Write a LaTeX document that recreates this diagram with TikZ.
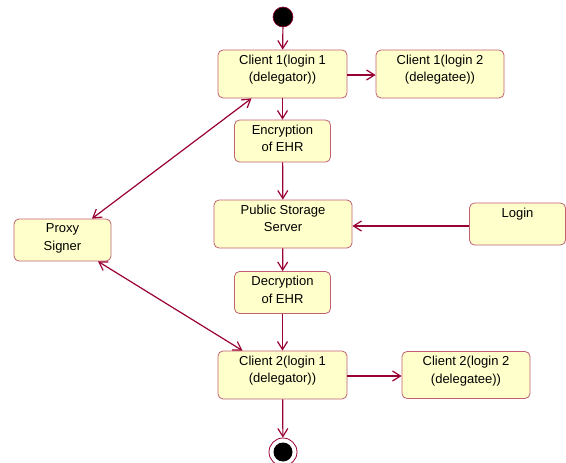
\documentclass[tikz,border=0pt]{standalone}
\usepackage{fontspec}
\setmainfont{Liberation Sans}
\usetikzlibrary{arrows.meta}
\definecolor{boxfill}{RGB}{255,255,204}
\definecolor{boxline}{RGB}{192,96,112}
\definecolor{arrowc}{RGB}{153,0,51}
\tikzset{
  box/.style={draw=boxline, line width=0.8pt, fill=boxfill, rounded corners=5pt, inner sep=0pt},
  txt/.style={anchor=north, yshift=-5pt, inner sep=0pt, align=center, font=\fontsize{13}{17.5}\selectfont},
  flow/.style={draw=arrowc, line width=1.2pt, -{Straight Barb[length=8pt,width=10pt]}},
  both/.style={draw=arrowc, line width=1.2pt, {Straight Barb[length=8pt,width=10pt]}-{Straight Barb[length=8pt,width=10pt]}}
}
\begin{document}
\begin{tikzpicture}[x=1pt,y=-1pt]
\useasboundingbox (0,0) rectangle (566,463);
% start
\node[circle, fill=black, draw=arrowc, line width=0.6pt, minimum size=20pt, inner sep=0pt] (start) at (283,17) {};
% boxes
\node[box, minimum width=129pt, minimum height=48pt, label={[txt]north:{Client 1(login 1\\(delegator))}}] (c1) at (282.5,74) {};
\node[box, minimum width=128pt, minimum height=48pt, label={[txt]north:{Client 1(login 2\\(delegatee))}}] (c1b) at (440,74) {};
\node[box, minimum width=96pt, minimum height=42pt, label={[txt]north:{Encryption\\of EHR}}] (enc) at (282.5,141) {};
\node[box, minimum width=138pt, minimum height=48pt, label={[txt]north:{Public Storage\\Server}}] (pss) at (283,224) {};
\node[box, minimum width=96pt, minimum height=42pt, label={[txt]north:{Login}}] (login) at (517.5,224) {};
\node[box, minimum width=97pt, minimum height=42pt, label={[txt]north:{Proxy\\Signer}}] (proxy) at (62.5,240) {};
\node[box, minimum width=96pt, minimum height=42pt, label={[txt]north:{Decryption\\of EHR}}] (dec) at (282.5,292.5) {};
\node[box, minimum width=129pt, minimum height=48pt, label={[txt]north:{Client 2(login 1\\(delegator))}}] (c2) at (282.5,375) {};
\node[box, minimum width=128pt, minimum height=47pt, label={[txt]north:{Client 2(login 2\\(delegatee))}}] (c2b) at (466,375) {};
% end
\node[circle, draw=arrowc, line width=0.8pt, fill=white, minimum size=28pt, inner sep=0pt] (end) at (283,452) {};
\node[circle, fill=black, minimum size=19pt, inner sep=0pt] (endin) at (end.center) {};
% connectors
\draw[flow] (start) -- (c1);
\draw[flow] (c1.east |- 0,75) -- (c1b.west |- 0,75);
\draw[flow] (c1) -- (enc);
\draw[flow] (enc) -- (pss);
\draw[flow] (login.west |- 0,226) -- (pss.east |- 0,226);
\draw[flow] (pss) -- (dec);
\draw[flow] (dec) -- (c2);
\draw[flow] (c2.east |- 0,376) -- (c2b.west |- 0,376);
\draw[flow] (c2) -- (end);
\draw[both] ([xshift=-31pt]c1.south) -- ([xshift=29.5pt]proxy.north);
\draw[both] ([xshift=35.5pt]proxy.south) -- ([xshift=-40pt]c2.north);
\end{tikzpicture}
\end{document}
